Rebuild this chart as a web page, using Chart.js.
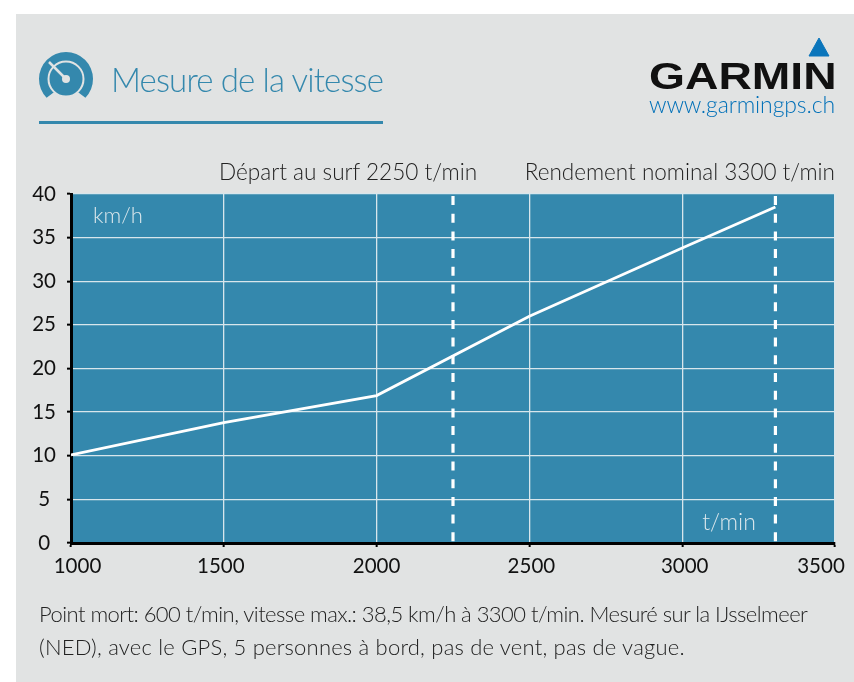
<!DOCTYPE html>
<html lang="fr"><head><meta charset="utf-8">
<script src="https://cdn.jsdelivr.net/npm/chart.js@4"></script>
<style>
html,body{margin:0;padding:0;background:#fff;overflow:hidden}
#wrap{position:relative;width:854px;height:682px}
#panel{position:absolute;left:16px;top:14px;width:838px;height:668px;background:#e1e3e3}
canvas{position:absolute;left:0;top:0}
.t{position:absolute;font-family:Lato,sans-serif;white-space:nowrap;font-weight:300}
svg{position:absolute;left:0;top:0}
</style></head><body>
<div id="wrap">
<div id="panel"></div>
<canvas id="c" width="854" height="682"></canvas>
<svg width="854" height="682">
<path d="M46.6 97.8 A27 27 0 1 1 85.4 97.8 L78.4 92.5 L53.6 92.5 Z" fill="#3488ad"/>
<circle cx="66" cy="79" r="17.5" fill="#3488ad" stroke="#e1e3e3" stroke-width="2"/>
<line x1="49" y1="62" x2="66" y2="79" stroke="#e1e3e3" stroke-width="2.5"/>
<circle cx="66" cy="79" r="4" fill="#e1e3e3"/>
<rect x="39" y="121" width="344" height="3" fill="#3488ad"/>
<path d="M809 56 L819 38 L829 56 Z" fill="#0a75bb" stroke="#0a75bb" stroke-linejoin="round"/>
</svg>
<div class="t" style="left:111px;top:59px;font-size:33px;letter-spacing:-.85px;color:#3488ad">Mesure de la vitesse</div>
<div class="t" style="left:649px;top:56px;font-family:'Liberation Sans';font-weight:700;font-size:37px;color:#111;transform-origin:0 0;transform:scaleX(1.25)">GARMIN</div>
<div class="t" style="right:19px;top:90px;font-size:23px;letter-spacing:-.12px;color:#0070b8">www.garmingps.ch</div>
<div class="t" style="left:219px;top:158px;font-size:22.6px;color:#222">Départ au surf 2250 t/min</div>
<div class="t" style="right:19px;top:158px;font-size:22.5px;color:#222">Rendement nominal 3300 t/min</div>
<div class="t" style="left:39px;top:600px;font-size:22px;letter-spacing:-.55px;color:#222">Point mort: 600 t/min, vitesse max.: 38,5 km/h à 3300 t/min. Mesuré sur la IJsselmeer</div>
<div class="t" style="left:39px;top:633px;font-size:22px;letter-spacing:.2px;color:#222">(NED), avec le GPS, 5 personnes à bord, pas de vent, pas de vague.</div>
</div>
<script>
const rpm = [1000, 1500, 2000, 2500, 3000, 3305];
const speed = [10.1, 13.8, 16.9, 26, 33.8, 38.5];
const surfRpm = [2250, 2250];
const nominalRpm = [3305, 3305];
const markerSpan = [40, 0];
const xTicks = [1000, 1500, 2000, 2500, 3000, 3500];
const yTicks = [0, 5, 10, 15, 20, 25, 30, 35, 40];
const xLabelNudge = [6.5, -3, 0, 2, 2.5, -14];
const font = "'Lato', sans-serif";

const pairs = (xs, ys) => xs.map((x, i) => ({x, y: ys[i]}));

const panelPlugin = {
  id: 'panel',
  beforeDraw(ch) {
    const {ctx, chartArea: a} = ch;
    ctx.save();
    ctx.fillStyle = '#3488ad';
    ctx.fillRect(a.left, a.top, a.right - a.left, a.bottom - a.top);
    ctx.restore();
  },
  afterDraw(ch) {
    const {ctx, chartArea: a, scales: {x}} = ch;
    ctx.save();
    ctx.font = '20.5px ' + font;
    ctx.fillStyle = '#111';
    ctx.textAlign = 'center';
    ctx.textBaseline = 'middle';
    xTicks.forEach((v, i) => ctx.fillText(String(v), x.getPixelForValue(v) + xLabelNudge[i], a.bottom + 23));
    ctx.font = '300 22px ' + font;
    ctx.fillStyle = '#dbe7ec';
    ctx.fillText('km/h', 118, 216);
    ctx.font = '300 23px ' + font;
    ctx.fillText('t/min', 729, 523);
    ctx.restore();
  }
};

const dashStyle = {borderColor: '#fff', borderWidth: 3.2, borderDash: [9, 8.7], borderDashOffset: 15.7, pointRadius: 0};

new Chart(document.getElementById('c'), {
  type: 'line',
  data: {
    datasets: [
      {data: pairs(rpm, speed), borderColor: '#fff', borderWidth: 2.8, pointRadius: 0, tension: 0},
      {data: pairs(surfRpm, markerSpan), ...dashStyle},
      {data: pairs(nominalRpm, markerSpan), ...dashStyle}
    ]
  },
  plugins: [panelPlugin],
  options: {
    responsive: false,
    animation: false,
    layout: {padding: {top: 194, right: 19, left: 0, bottom: 0}},
    plugins: {legend: {display: false}, tooltip: {enabled: false}},
    scales: {
      x: {
        type: 'linear', min: 1000, max: 3500,
        afterBuildTicks: s => { s.ticks = xTicks.map(value => ({value})); },
        afterFit: s => { s.height = 139; },
        ticks: {display: false},
        border: {color: '#000', width: 3},
        grid: {color: '#d8e6ec', lineWidth: 1.3, tickColor: '#000', tickWidth: 2, tickLength: 4}
      },
      y: {
        type: 'linear', min: 0, max: 40,
        afterBuildTicks: s => { s.ticks = yTicks.map(value => ({value})); },
        afterFit: s => { s.width = 71; },
        ticks: {color: '#111', font: {family: font, size: 20.5}, crossAlign: 'center', padding: 11, autoSkip: false},
        border: {color: '#000', width: 3},
        grid: {color: '#d8e6ec', lineWidth: 1.3, tickColor: '#000', tickWidth: 2, tickLength: 4}
      }
    }
  }
});
</script>
</body></html>
